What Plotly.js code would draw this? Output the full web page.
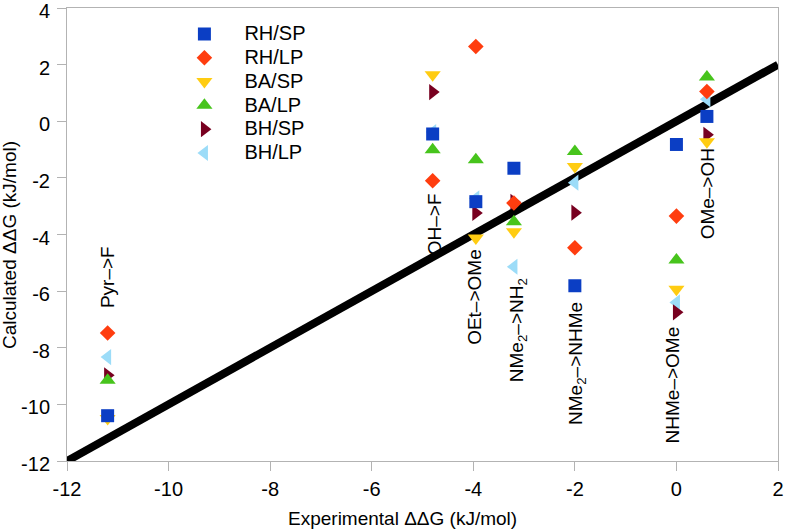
<!DOCTYPE html>
<html>
<head>
<meta charset="utf-8">
<script src="https://cdn.plot.ly/plotly-3.0.1.min.js"></script>
<style>
  html, body { margin: 0; padding: 0; background: #ffffff; }
  #chart { width: 786px; height: 529px; }
</style>
</head>
<body>
<div id="chart"></div>
<script>
// Experimental ΔΔG for each substitution (kJ/mol)
const substitutions = ["Pyr–>F", "OH–>F", "OEt–>OMe", "NMe<sub>2</sub>–>NH<sub>2</sub>", "NMe<sub>2</sub>–>NHMe", "NHMe–>OMe", "OMe–>OH"];
const experimental = [-11.2, -4.8, -3.95, -3.2, -2.0, 0.0, 0.6];

// Calculated ΔΔG per method (kJ/mol), same order as substitutions
const rhSP = [-10.4, -0.45, -2.84, -1.66, -5.81, -0.82, 0.17];
const rhLP = [-7.48, -2.1, 2.64, -2.89, -4.47, -3.35, 1.05];
const baSP = [-10.5, 1.64, -4.12, -3.9, -1.6, -5.93, -0.72];
const baLP = [-9.15, -1.01, -1.36, -3.55, -1.07, -4.9, 1.56];
const bhSP = [-8.97, 1.03, -3.24, -2.85, -3.23, -6.75, -0.48];
const bhLP = [-8.33, -0.38, -2.72, -5.14, -2.17, -6.4, 0.78];

const seriesNames = ["RH/SP", "RH/LP", "BA/SP", "BA/LP", "BH/SP", "BH/LP"];

// Tick labels
const xTicks = [-12, -10, -8, -6, -4, -2, 0, 2];
const yTicks = [-12, -10, -8, -6, -4, -2, 0, 2, 4];

// Label placement (centre of each rotated label, in data units)
const labelX = [-11.19, -4.77, -3.99, -3.12, -1.96, -0.07, 0.62];
const labelY = [-5.5, -3.63, -6.21, -7.38, -8.54, -9.3, -2.55];

// Axis ranges; the diagonal is the line calculated = experimental
const xRange = [-12, 2];
const yRange = [-12, 4];

const seriesValues = [rhSP, rhLP, baSP, baLP, bhSP, bhLP];
const symbols = ["square", "diamond", "triangle-down", "triangle-up", "triangle-right", "triangle-left"];
const colors = ["#0b3ec4", "#ff3d0f", "#ffcc12", "#47c41c", "#780020", "#9cdcf8"];
const sizes = [13, 12, 14, 14, 14, 14];

const FONT = "Liberation Sans, Arial, sans-serif";

const traces = [];
traces.push({
  x: xRange, y: xRange, mode: "lines", showlegend: false, hoverinfo: "skip",
  line: {color: "#000000", width: 8}
});
// draw in reverse so RH/SP ends up on top, legend order restored with traceorder
for (let i = seriesNames.length - 1; i >= 0; i--) {
  traces.push({
    x: experimental, y: seriesValues[i], mode: "markers",
    name: '<span style="font-size:20px">' + seriesNames[i] + '</span>',
    marker: {symbol: symbols[i], color: colors[i], size: sizes[i], line: {width: 0}}
  });
}

const annotations = substitutions.map((t, i) => ({
  x: labelX[i], y: labelY[i], xref: "x", yref: "y", text: t, showarrow: false,
  textangle: -90, xanchor: "center", yanchor: "middle",
  font: {family: FONT, size: 19, color: "#000000"}
}));
// axis titles
annotations.push({
  x: 0.472, y: -0.127, xref: "paper", yref: "paper", showarrow: false,
  text: "Experimental ΔΔG (kJ/mol)", xanchor: "center", yanchor: "middle",
  font: {family: FONT, size: 19, color: "#000000"}
});
annotations.push({
  x: -0.08, y: 0.477, xref: "paper", yref: "paper", showarrow: false,
  text: "Calculated ΔΔG (kJ/mol)", textangle: -90, xanchor: "center", yanchor: "middle",
  font: {family: FONT, size: 19, color: "#000000"}
});

const axisCommon = {
  showgrid: false, zeroline: false, showline: true, linecolor: "#b3b3b3", linewidth: 1,
  mirror: true, ticks: "outside", ticklen: 9, tickcolor: "#b3b3b3", tickwidth: 1,
  tickfont: {family: FONT, size: 20, color: "#000000"},
  tickmode: "array", fixedrange: true, ticklabeloverflow: "allow"
};

const layout = {
  width: 786, height: 529,
  margin: {l: 67, r: 8, t: 8, b: 68},
  paper_bgcolor: "#ffffff", plot_bgcolor: "#ffffff",
  font: {family: FONT, color: "#000000"},
  xaxis: Object.assign({}, axisCommon, {
    range: xRange, tickvals: xTicks, ticktext: xTicks.map(String), ticklabelstandoff: 1
  }),
  yaxis: Object.assign({}, axisCommon, {
    range: yRange, tickvals: yTicks, ticktext: yTicks.map(String), ticklabelstandoff: 3,
    ticklabelshift: 3
  }),
  legend: {
    x: 0.137, y: 0.98, xanchor: "left", yanchor: "top", traceorder: "reversed",
    bgcolor: "rgba(0,0,0,0)", itemwidth: 70,
    font: {family: FONT, size: 16, color: "#000000"}
  },
  annotations: annotations,
  showlegend: true
};

Plotly.newPlot("chart", traces, layout, {displayModeBar: false, staticPlot: true});
</script>
</body>
</html>
